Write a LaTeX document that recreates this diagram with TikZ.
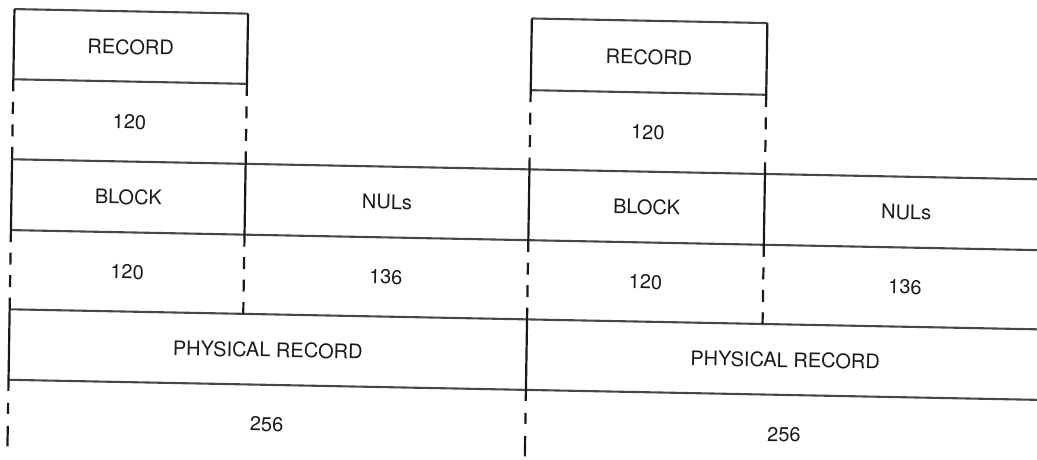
\documentclass[tikz,border=0pt]{standalone}
\usepackage{fontspec}
\setmainfont{TeX Gyre Heros}
\begin{document}
\begin{tikzpicture}[x=1pt,y=1pt,
  hline/.style={line width=2.1pt, draw=black!72},
  vline/.style={line width=2.2pt, draw=black!90},
  dline/.style={line width=2.2pt, draw=black!90, dash pattern=on 12pt off 10.5pt},
  dlast/.style={line width=2.2pt, draw=black!90, dash pattern=on 11pt off 12pt on 11pt off 12pt on 21pt off 6pt},
  lbl/.style={font=\fontsize{20}{24}\selectfont, text=black!90, inner sep=0pt, transform shape}]
\useasboundingbox (0,0) rectangle (1037,-459);
\clip (0,0) rectangle (1037,-459);
\begin{scope}[cm={1,-0.0195,0.016,1,(0,0)}]
  % record boxes
  \draw[hline] (14.6,-8.8) -- (248.2,-8.8);
  \draw[hline] (14.6,-79) -- (248.2,-79);
  \draw[hline] (532,-8.1) -- (767.5,-8.1);
  \draw[hline] (532,-79.8) -- (767.5,-79.8);
  % long rows
  \draw[hline] (14.6,-159) -- (1060,-159);
  \draw[hline] (14.6,-229.8) -- (1060,-229.8);
  \draw[hline] (14.6,-309) -- (1060,-309);
  \draw[hline] (14.6,-379.5) -- (1060,-379.5);
  % verticals
  \foreach \u/\t/\b in {14.6/-8.8/-79, 248.2/-8.8/-79, 532/-8.1/-79.8, 767.5/-8.1/-79.8}{
    \draw[vline] (\u,\t) -- (\u,\b);
    \draw[dline] (\u,\b) -- (\u,-159);
    \draw[vline] (\u,-159) -- (\u,-229.8);
    \draw[dline] (\u,-229.8) -- (\u,-309);
  }
  \foreach \u in {14.6, 532}{
    \draw[vline] (\u,-309) -- (\u,-379.5);
    \draw[dlast] (\u,-379.5) -- (\u,-446);
  }
  % labels left
  \node[lbl] (rec1) at (131.4,-44.5) {RECORD};
  \node[lbl] (sz1) at (131.4,-119.5) {120};
  \node[lbl] (blk1) at (131.4,-194.4) {BLOCK};
  \node[lbl] (nul1) at (390.1,-194.4) {NULs};
  \node[lbl] (sz2) at (131.4,-269.4) {120};
  \node[lbl] (sz3) at (390.1,-269.4) {136};
  \node[lbl] (pr1) at (273.3,-344.5) {PHYSICAL RECORD};
  \node[lbl] (sz4) at (273.3,-419) {256};
  % labels right
  \node[lbl] (rec2) at (649.75,-44.5) {RECORD};
  \node[lbl] (sz5) at (649.75,-119.5) {120};
  \node[lbl] (blk2) at (649.75,-194.4) {BLOCK};
  \node[lbl] (nul2) at (909.3,-194.4) {NULs};
  \node[lbl] (sz6) at (649.75,-269.4) {120};
  \node[lbl] (sz7) at (909.3,-269.4) {136};
  \node[lbl] (pr2) at (790.7,-344.5) {PHYSICAL RECORD};
  \node[lbl] (sz8) at (790.7,-419) {256};
\end{scope}
\end{tikzpicture}
\end{document}
